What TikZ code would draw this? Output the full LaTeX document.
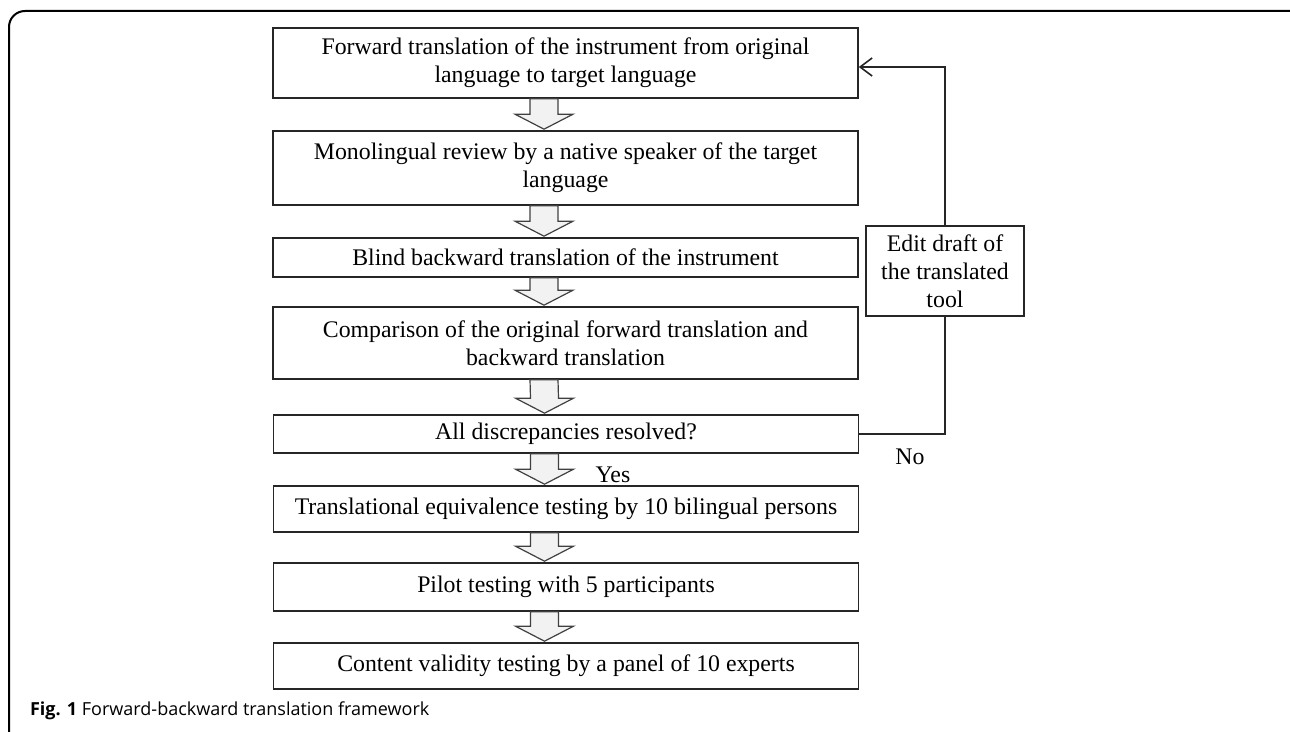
\documentclass[tikz,border=0pt]{standalone}
\usepackage{fontspec}
\setmainfont{Liberation Serif}
\newfontfamily\capfont{Open Sans}
\usetikzlibrary{arrows.meta,calc}

\tikzset{
  stepbox/.style={draw=black!85, line width=0.8pt, minimum width=292.5pt, align=center,
    inner sep=2pt, font=\fontsize{11.9}{14}\selectfont},
  editbox/.style={stepbox, minimum width=79pt, minimum height=45pt},
  blockarr/.style={draw=black!75, line width=0.6pt, fill=black!5, line join=miter},
  fback/.style={draw=black!85, line width=0.8pt},
  lbl/.style={font=\fontsize{11.9}{14}\selectfont},
}

\begin{document}
\begin{tikzpicture}[x=0.5pt,y=-0.5pt]
	\useasboundingbox (0,0) rectangle (1290,732);
	% frame of the figure
	\draw[line width=1pt, rounded corners=8] (9,732) -- (9,11) -- (1290,11);
	
	\node[stepbox, minimum height=35pt] (fwd) at (565.5,63) {Forward translation of the instrument from original\\language to target language};
	\node[stepbox, minimum height=37pt] (mono) at (565.5,168) {Monolingual review by a native speaker of the target\\language};
	\node[stepbox, minimum height=19.5pt] (back) at (565.5,257.5) {Blind backward translation of the instrument};
	\node[stepbox, minimum height=36pt] (comp) at (565.5,343) {Comparison of the original forward translation and\\backward translation};
	\node[stepbox, minimum height=19pt] (disc) at (566,434) {All discrepancies resolved?};
	\node[stepbox, minimum height=23pt] (equi) at (566,509) {Translational equivalence testing by 10 bilingual persons};
	\node[stepbox, minimum height=24pt] (pilot) at (566,587) {Pilot testing with 5 participants};
	\node[stepbox, minimum height=23pt] (valid) at (566,666) {Content validity testing by a panel of 10 experts};
	
	\node[editbox] (edit) at (945,271) {Edit draft of\\the translated\\tool};
	
	% block arrows between the steps
	\foreach \a/\b in {fwd/mono, mono/back, back/comp, comp/disc, disc/equi, equi/pilot, pilot/valid}
		\draw[blockarr] ($(\a.south)+(-35.5,0)$) -- ($(\b.north)+(-35.5,-16)$) -- ($(\b.north)+(-50.5,-16)$)
			-- ($(\b.north)+(-21.5,-1)$) -- ($(\b.north)+(7.5,-16)$) -- ($(\b.north)+(-7.5,-16)$)
			-- ($(\a.south)+(-7.5,0)$) -- cycle;
	
	% loop back
	\draw[fback] (disc.east) -| (edit.south);
	\draw[fback, -{Straight Barb[length=6pt,width=9pt]}] (edit.north) |- ([yshift=-2pt]fwd.east);
	
	\node[lbl] (yes) at (613,475) {Yes};
	\node[lbl] (no) at (910,457) {No};
	
	\node[anchor=west, font=\capfont\fontsize{9}{11}\selectfont] (cap) at (23,711) {\textbf{Fig. 1} Forward-backward translation framework};
\end{tikzpicture}
\end{document}
